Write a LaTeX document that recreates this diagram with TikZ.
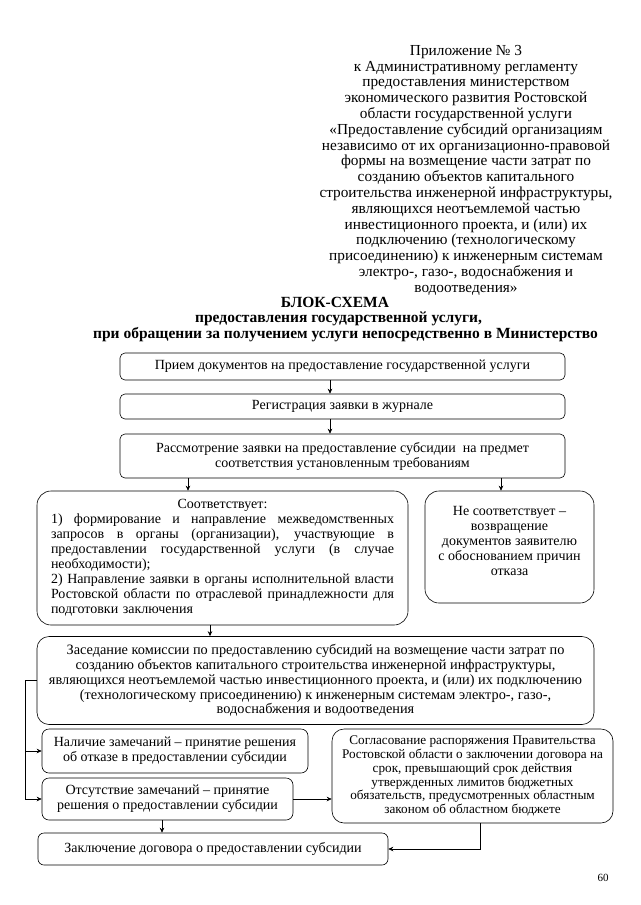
\documentclass[tikz,border=0pt]{standalone}
\usepackage{fontspec}
\setmainfont{Liberation Serif}
\usetikzlibrary{arrows.meta}
\newcommand\myjust[1]{\leavevmode\hbox to 343pt{\spaceskip=0.25em plus 1fil\relax #1}}
\begin{document}
\begin{tikzpicture}[x=1pt,y=-1pt,
  every node/.style={inner sep=0pt, font=\fontsize{14}{15}\selectfont},
  rbox/.style={draw, line width=0.6pt, rounded corners=5pt, align=center},
  rbig/.style={rbox, rounded corners=14pt},
  ttl/.style={font=\bfseries\fontsize{15.5}{16}\selectfont},
  arr/.style={-{Stealth[length=5pt,width=4.5pt]}, line width=0.6pt},
  ln/.style={line width=0.6pt}]
\useasboundingbox (0,0) rectangle (640,905);

\node[align=center, anchor=north, font=\fontsize{15.3}{15.8}\selectfont] (hdr) at (466,45) {Приложение № 3\\
к Административному регламенту\\
предоставления министерством\\
экономического развития Ростовской\\
области государственной услуги\\
«Предоставление субсидий организациям\\
независимо от их организационно-правовой\\
формы на возмещение части затрат по\\
созданию объектов капитального\\
строительства инженерной инфраструктуры,\\
являющихся неотъемлемой частью\\
инвестиционного проекта, и (или) их\\
подключению (технологическому\\
присоединению) к инженерным системам\\
электро-, газо-, водоснабжения и\\
водоотведения»};

\node[ttl] (t1) at (335,302.5) {БЛОК-СХЕМА};
\node[ttl, anchor=west] (t2) at (195,318.5) {предоставления государственной услуги,};
\node[ttl, anchor=west] (t3) at (93,334.5) {при обращении за получением услуги непосредственно в Министерство};

\node[rbox, minimum width=445, minimum height=27] (b1) at (342.5,366.5) {Прием документов на предоставление государственной услуги};
\node[rbox, minimum width=445, minimum height=25] (b2) at (342.5,406.5) {Регистрация заявки в журнале};
\node[rbox, minimum width=445, minimum height=44] (b3) at (342.5,456) {Рассмотрение заявки на предоставление субсидии \ на предмет\\ соответствия установленным требованиям};

\node[rbig, minimum width=371, minimum height=134, text width=343, align=left] (b4) at (222.5,558) {\myjust{\hfil Соответствует:\hfil}\\
\myjust{1) формирование и направление межведомственных}\\
\myjust{запросов в органы (организации), участвующие в}\\
\myjust{предоставлении государственной услуги (в случае}\\
необходимости);\\
\myjust{2) Направление заявки в органы исполнительной власти}\\
\myjust{Ростовской области по отраслевой принадлежности для}\\
подготовки заключения};

\node[rbig, minimum width=169, minimum height=112] (b5) at (509.5,547) {Не соответствует –\\ возвращение\\ документов заявителю\\ с обоснованием причин\\ отказа\\[-3pt]\mbox{}};

\node[rbig, rounded corners=12pt, minimum width=557, minimum height=88, font=\fontsize{14.3}{14.8}\selectfont] (b6) at (315.5,680.5) {Заседание комиссии по предоставлению субсидий на возмещение части затрат по\\
созданию объектов капитального строительства инженерной инфраструктуры,\\
являющихся неотъемлемой частью инвестиционного проекта, и (или) их подключению\\
(технологическому присоединению) к инженерным системам электро-, газо-,\\
водоснабжения и водоотведения};

\node[rbox, rounded corners=7pt, minimum width=266, minimum height=44] (b7) at (175,751) {Наличие замечаний – принятие решения\\ об отказе в предоставлении субсидии};
\node[rbox, rounded corners=7pt, minimum width=251, minimum height=42] (b8) at (167.5,799) {Отсутствие замечаний – принятие\\ решения о предоставлении субсидии};

\node[rbig, rounded corners=12pt, minimum width=281, minimum height=94, font=\fontsize{13.2}{13.8}\selectfont] (b9) at (472.5,776) {Согласование распоряжения Правительства\\
Ростовской области о заключении договора на\\
срок, превышающий срок действия\\
утвержденных лимитов бюджетных\\
обязательств, предусмотренных областным\\
законом об областном бюджете};

\node[rbox, rounded corners=6pt, minimum width=350, minimum height=32] (b10) at (213,849) {Заключение договора о предоставлении субсидии};

\node[font=\fontsize{11}{12}\selectfont] (pg) at (603,878) {60};

\coordinate (cA) at (330,0);
\coordinate (cB) at (188,0);
\coordinate (cC) at (501,0);
\coordinate (cD) at (210,0);
\coordinate (cE) at (162,0);
\coordinate (cF) at (480,0);
\coordinate (cL) at (25,0);

\draw[arr] (b1.south -| cA) -- (b2.north -| cA);
\draw[arr] (b2.south -| cA) -- (b3.north -| cA);
\draw[arr] (b3.south -| cB) -- (b4.north -| cB);
\draw[arr] (b3.south -| cC) -- (b5.north -| cC);
\draw[arr] (b4.south -| cD) -- (b6.north -| cD);
\draw[arr] (b6.west) -- (b6.west -| cL) |- (b8.west);
\draw[arr] (cL |- b7.west) -- (b7.west);
\draw[arr] (b8.east) -- (b8.east -| b9.west);
\draw[arr] (b8.south -| cE) -- (b10.north -| cE);
\draw[arr] (b9.south -| cF) |- (b10.east);
\end{tikzpicture}
\end{document}
